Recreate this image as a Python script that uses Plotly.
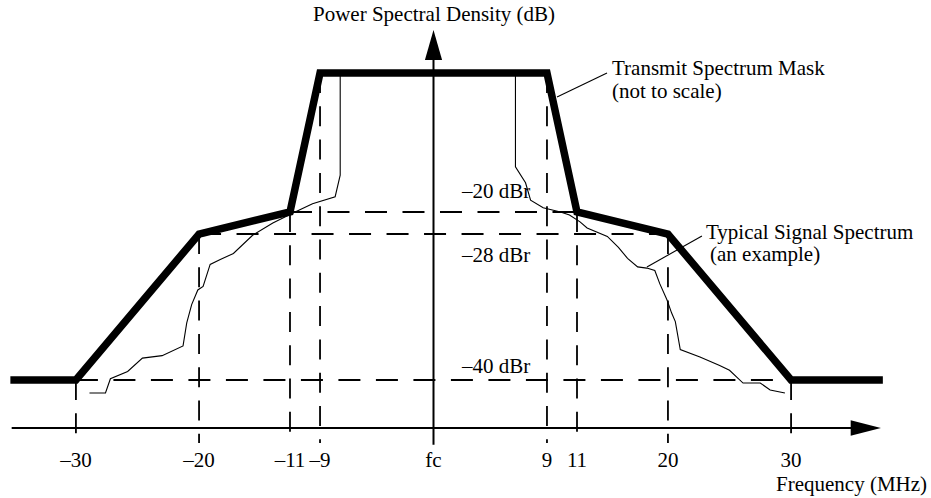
import numpy as np
import plotly.graph_objects as go

# ---- data -------------------------------------------------------------
# Transmit spectrum mask corners: offset from fc (MHz) and level (dBr)
MASK_FREQ = [-35.5, -30, -20, -11, -9, 9, 11, 20, 30, 37.7]
MASK_DBR = [-40, -40, -28, -20, 0, 0, -20, -28, -40, -40]

# Typical signal spectrum (an example trace)
SIGNAL_FREQ = [-28.9, -27.6, -27.2, -25.8, -24.6, -23.0, -21.3, -21.0, -20.6, -20.1,
               -19.6, -18.9, -17.9, -16.6, -14.7, -12.7, -10.8, -9.5, -7.8, -7.4,
               -7.4, 6.5, 6.5, 7.3, 7.7, 8.7, 9.9, 10.5, 11.3, 12.0,
               14.0, 15.1, 16.0, 17.0, 17.9, 18.7, 19.2, 19.9, 20.3, 20.6,
               21.0, 22.6, 24.2, 25.0, 26.1, 27.5, 28.3, 29.5]
SIGNAL_DBR = [-41.7, -41.7, -39.9, -39.3, -38.2, -38.0, -37.2, -35.3, -33.8, -32.6,
              -32.3, -30.5, -30.1, -29.6, -28.1, -24.0, -20.4, -18.8, -17.8, -14.7,
              -0.3, -0.3, -13.5, -15.8, -18.3, -19.4, -20.0, -21.1, -23.6, -25.8,
              -28.2, -29.1, -30.0, -30.7, -30.8, -31.0, -32.1, -33.4, -34.5, -35.2,
              -37.5, -38.1, -38.8, -39.2, -40.4, -40.4, -41.3, -41.7]

TICK_FREQ = [-30, -20, -11, -9, 0, 9, 11, 20, 30]
TICK_TEXT = ["\u201330", "\u201320", "\u201311", "\u20139", "fc", "9", "11", "20", "30"]

LEVELS = [-20, -28, -40]
LEVEL_TEXT = ["\u201320 dBr", "\u201328 dBr", "\u201340 dBr"]
LEVEL_HALF_SPAN = [11, 20, 30]   # each reference level runs between +/- these offsets

# ---- schematic (not to scale) axes --------------------------------------
# The band edges are spread apart so the narrow transition regions stay legible.
FREQ_KNOTS = [-60, -30, -20, -11, -9, 0, 9, 11, 20, 30, 60]
FREQ_SPREAD = [-60, -30, -19.67, -12.04, -9.52, 0, 9.52, 12.04, 19.67, 30, 60]
DBR_KNOTS = [-60, -40, -28, -20, 0, 10]
DBR_SPREAD = [-60, -40, -20.98, -18.11, 0, 10]


def sx(f):
    return np.interp(f, FREQ_KNOTS, FREQ_SPREAD)


def sy(d):
    return np.interp(d, DBR_KNOTS, DBR_SPREAD)


PLOT_H = 445  # plot-area height in px (margin below holds the tick labels)
X_RANGE = [-36.37, 41.74]
Y_RANGE = [-(PLOT_H - 73) / 7.675, 73 / 7.675]
BASELINE = -46.25        # frequency axis height
GUIDE_BOTTOM = -48.2     # where the vertical guides stop
VAXIS_BOTTOM = -48.45

FONT = "Liberation Serif"
FS = 21
INK = "black"

fig = go.Figure()

# horizontal reference levels
hx, hy = [], []
for lev, half in zip(LEVELS, LEVEL_HALF_SPAN):
    hx += [sx(-half), sx(half), None]
    hy += [sy(lev), sy(lev), None]
fig.add_trace(go.Scatter(x=hx, y=hy, mode="lines", hoverinfo="skip",
                         line=dict(color=INK, width=1.8, dash="22px,15.5px")))

# vertical guides from the mask down past the frequency axis
vx, vy = [], []
for f in TICK_FREQ:
    if f == 0:
        continue
    top = np.interp(f, MASK_FREQ, MASK_DBR)
    vx += [sx(f), sx(f), None]
    vy += [sy(top), GUIDE_BOTTOM, None]
fig.add_trace(go.Scatter(x=vx, y=vy, mode="lines", hoverinfo="skip",
                         line=dict(color=INK, width=1.8, dash="20px,13.3px")))

# typical signal spectrum
fig.add_trace(go.Scatter(x=sx(SIGNAL_FREQ), y=sy(SIGNAL_DBR), mode="lines",
                         hoverinfo="skip", line=dict(color=INK, width=1.1)))

# transmit spectrum mask
fig.add_trace(go.Scatter(x=sx(MASK_FREQ), y=sy(MASK_DBR), mode="lines",
                         hoverinfo="skip", line=dict(color=INK, width=7.5)))

# frequency axis with arrow
fig.add_trace(go.Scatter(x=[-35.39, 35.5], y=[BASELINE, BASELINE], mode="lines",
                         hoverinfo="skip", line=dict(color=INK, width=2)))
# power axis with arrow
fig.add_trace(go.Scatter(x=[0, 0], y=[VAXIS_BOTTOM, 2.0], mode="lines",
                         hoverinfo="skip", line=dict(color=INK, width=2)))

shapes = [
    dict(type="path", xref="x", yref="y",
         path=f"M 35.0 {BASELINE + 1.02} L 37.54 {BASELINE} L 35.0 {BASELINE - 1.02} Z",
         fillcolor=INK, line=dict(width=0)),
    dict(type="path", xref="x", yref="y",
         path="M -0.72 1.69 L 0 5.6 L 0.72 1.69 Z",
         fillcolor=INK, line=dict(width=0)),
]

# leader lines to the captions
leaders = [((9.67, -3.45), (13.97, 0.0)), ((17.92, -30.71), (22.76, -28.16))]
for (f0, d0), (f1, d1) in leaders:
    fig.add_trace(go.Scatter(x=[sx(f0), sx(f1)], y=[sy(d0), sy(d1)], mode="lines",
                             hoverinfo="skip", line=dict(color=INK, width=1.1)))

tfont = dict(family=FONT, size=FS, color=INK)


def caption(text, px, py, anchor="left"):
    return dict(text=text, xref="paper", yref="paper", x=px / 931,
                y=(PLOT_H - py) / PLOT_H, xanchor=anchor, yanchor="middle",
                showarrow=False, font=tfont)


annotations = [
    caption("Power Spectral Density (dB)", 433.5, 14, "center"),
    caption("Frequency (MHz)", 929, 484, "right"),
    caption("Transmit Spectrum Mask", 610, 68),
    caption("(not to scale)", 610, 91),
    caption("Typical Signal Spectrum", 704, 232),
    caption("(an example)", 708, 254),
]
level_shift = {-20: 21, -28: -21, -40: 14.5}
for lev, txt in zip(LEVELS, LEVEL_TEXT):
    annotations.append(dict(text=txt, xref="paper", yref="y", x=532 / 931, y=sy(lev),
                            yshift=level_shift[lev], xanchor="right", yanchor="middle",
                            showarrow=False, font=tfont))

fig.update_layout(
    width=931, height=498,
    margin=dict(l=0, r=0, t=0, b=498 - PLOT_H),
    paper_bgcolor="white", plot_bgcolor="white",
    showlegend=False,
    shapes=shapes,
    annotations=annotations,
    xaxis=dict(range=X_RANGE, tickvals=list(sx(TICK_FREQ)), ticktext=TICK_TEXT,
               showgrid=False, zeroline=False, showline=False, ticks="",
               tickfont=tfont, fixedrange=True),
    yaxis=dict(range=Y_RANGE, visible=False, fixedrange=True),
)

fig.write_html("out.html")
